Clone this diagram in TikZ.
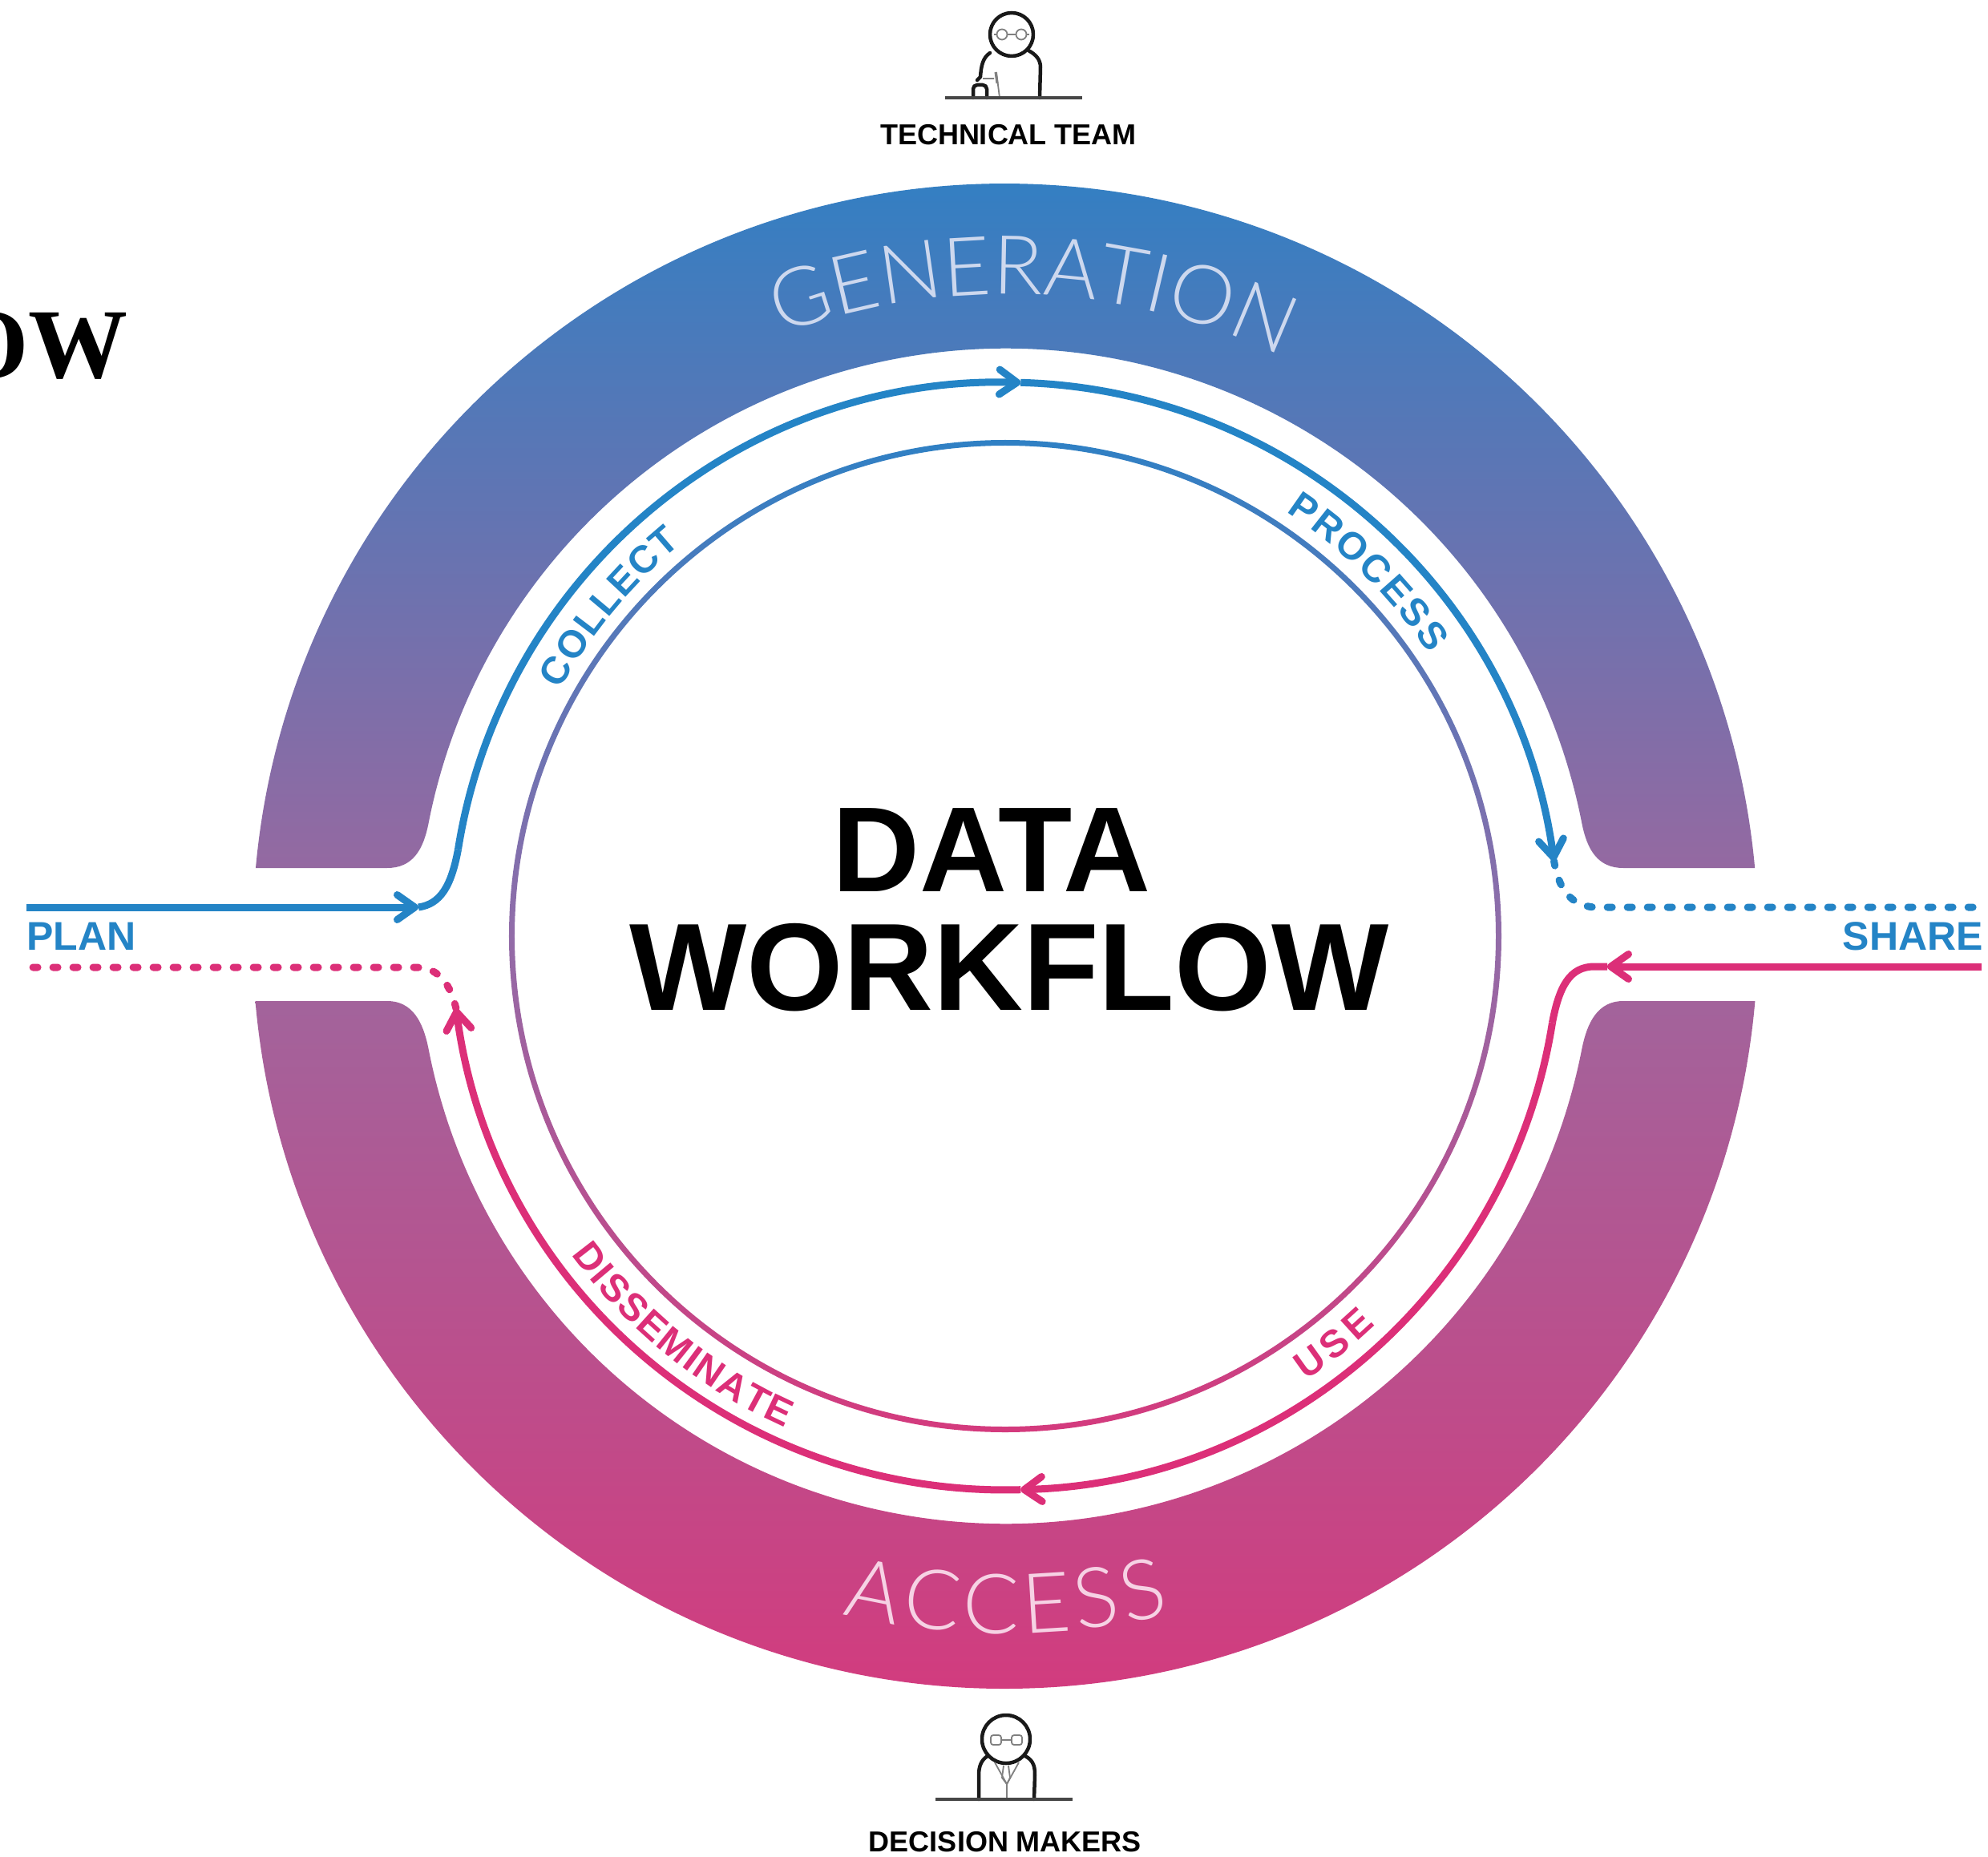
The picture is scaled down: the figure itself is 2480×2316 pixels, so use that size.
\documentclass[tikz,border=0pt]{standalone}
\usepackage{fontspec}
\setmainfont{Liberation Sans}
\newfontfamily\titlefont{Liberation Serif}
\newfontfamily\lightfont{Lato Light}
\usetikzlibrary{arrows.meta,decorations.text}
\definecolor{bluepath}{RGB}{36,132,198}
\definecolor{pinkpath}{RGB}{220,47,120}
\definecolor{gtop}{RGB}{47,128,196}
\definecolor{gmid}{RGB}{158,103,158}
\definecolor{gbot}{RGB}{212,58,125}
\definecolor{imid}{RGB}{146,108,168}
\definecolor{genlab}{RGB}{205,216,238}
\definecolor{acclab}{RGB}{246,210,228}
\definecolor{tablegray}{RGB}{70,70,70}
\newcommand\bluelab{\fontsize{48pt}{48pt}\selectfont\bfseries\color{bluepath}}
\newcommand\pinklab{\fontsize{48pt}{48pt}\selectfont\bfseries\color{pinkpath}}
\newcommand\genfmt{\fontsize{102pt}{102pt}\selectfont\lightfont\color{genlab}}
\newcommand\accfmt{\fontsize{104pt}{104pt}\selectfont\lightfont\color{acclab}}
\tikzset{
  chev/.tip={Straight Barb[length=22pt,width=31pt,round]},
  bluestroke/.style={draw=bluepath,line width=9pt},
  pinkstroke/.style={draw=pinkpath,line width=9pt},
  dotted blue/.style={bluestroke,line cap=round,dash pattern=on 6pt off 19pt},
  dotted pink/.style={pinkstroke,line cap=round,dash pattern=on 6pt off 19pt},
  bandshade/.style={top color=gtop,bottom color=gbot,middle color=gmid},
  ringshade/.style={top color=gtop,bottom color=gbot,middle color=imid},
  sidelabel/.style={inner sep=0pt,font=\fontsize{50pt}{50pt}\selectfont\bfseries},
  teamlabel/.style={inner sep=0pt,anchor=base,text=black,font=\fontsize{36pt}{36pt}\selectfont\bfseries},
  biglabel/.style={inner sep=0pt,anchor=base,text=black,font=\fontsize{155pt}{155pt}\selectfont\bfseries},
  iconline/.style={draw=black!90,line width=4.5pt,line cap=round,line join=round},
  iconthin/.style={draw=black!50,line width=1.8pt},
  tableline/.style={draw=tablegray,line width=4.5pt},
  arclabel/.style={decorate,decoration={text along path,text={#1},text align={fit to path}}},
}
\begin{document}
\begin{tikzpicture}[x=1pt,y=1pt]
\path[use as bounding box] (-1254,1168) rectangle (1226,-1148);
\clip (-1254,1168) rectangle (1226,-1148);
\fill[white] (-1254,1168) rectangle (1226,-1148);

% gradient bands
\shade[bandshade]
  (-935,85) arc[start angle=174.8,end angle=5.2,radius=939pt]
  -- (771,85) .. controls (739,85) and (726,108) .. (719.5,140)
  arc[start angle=11,end angle=169,radius=733pt]
  .. controls (-726,108) and (-739,85) .. (-771,85) -- cycle
  (-935.5,-81) arc[start angle=184.95,end angle=355.05,radius=939pt]
  -- (771,-81) .. controls (739,-81) and (726,-108) .. (719.5,-140)
  arc[start angle=-11,end angle=-169,radius=733pt]
  .. controls (-726,-108) and (-739,-81) .. (-771,-81) -- cycle;

% inner ring
\shade[ringshade,even odd rule] (0,0) circle[radius=619pt] (0,0) circle[radius=612pt];

% named points of the paths
\coordinate (planstart) at (-1221,36);
\coordinate (plantip) at (-732,36);
\coordinate (collectstart) at (171:691);
\coordinate (toptip) at (88.4:691);
\coordinate (righttip) at (7.8:691);
\coordinate (sharebend) at (735,36);
\coordinate (shareend) at (1218,36);
\coordinate (usestart) at (1218,-38);
\coordinate (usetip) at (751,-38);
\coordinate (usebend) at (735,-38);
\coordinate (usearc) at (-9:691);
\coordinate (bottomtip) at (-88.4:691);
\coordinate (lefttip) at (-172.5:691);
\coordinate (planbend) at (-735,-39);
\coordinate (planend) at (-1224,-39);

% blue path
\draw[bluestroke,-chev] (planstart) -- (plantip);
\draw[bluestroke] (plantip) .. controls (-704,40) and (-691,63) .. (collectstart);
\draw[bluestroke,-chev] (collectstart) arc[start angle=171,end angle=88.4,radius=691pt];
\draw[bluestroke,-chev] (toptip) arc[start angle=88.4,end angle=7.8,radius=691pt];
\draw[dotted blue] (righttip) .. controls (690,60) and (705,38) .. (sharebend) -- (shareend);

% pink path
\draw[pinkstroke,-chev] (usestart) -- (usetip);
\draw[pinkstroke] (usetip) -- (usebend) .. controls (704,-38) and (691,-63) .. (usearc);
\draw[pinkstroke,-chev] (usearc) arc[start angle=-9,end angle=-88.4,radius=691pt];
\draw[pinkstroke,-chev] (bottomtip) arc[start angle=-88.4,end angle=-172.5,radius=691pt];
\draw[dotted pink] (lefttip) .. controls (-692,-62) and (-705,-39) .. (planbend) -- (planend);

% curved labels
\path[arclabel={|\genfmt|GENERATION}] (110.5:801) arc[start angle=110.5,end angle=64.5,radius=801pt];
\path[arclabel={|\accfmt|ACCESS}] (256.5:870) arc[start angle=256.5,end angle=283.7,radius=870pt];
\path[arclabel={|\bluelab|COLLECT}] (151:635) arc[start angle=151,end angle=129.5,radius=635pt];
\path[arclabel={|\bluelab|PROCESS}] (56.5:635) arc[start angle=56.5,end angle=33.7,radius=635pt];
\path[arclabel={|\pinklab|DISSEMINATE}] (216.3:672) arc[start angle=216.3,end angle=245.9,radius=672pt];
\path[arclabel={|\pinklab|USE}] (304.1:670) arc[start angle=304.1,end angle=313.6,radius=670pt];

% straight labels
\node[sidelabel,anchor=base west,text=bluepath] (plan) at (-1221,-17) {PLAN};
\node[sidelabel,anchor=base east,text=bluepath] (share) at (1220,-17) {SHARE};
\node[biglabel,font=\fontsize{151pt}{151pt}\selectfont\bfseries] (data) at (-17,56) {DATA};
\node[biglabel] (workflow) at (5,-92) {WORKFLOW};
\node[teamlabel] (tech) at (4,987) {TECHNICAL TEAM};
\node[teamlabel] (decision) at (0,-1142) {DECISION MAKERS};
\node[inner sep=0pt,anchor=base east,text=black,font=\fontsize{124pt}{124pt}\selectfont\titlefont\bfseries] (title) at (-1094,696) {OW};

% icons, in reference pixels
\begin{scope}[shift={(-1254pt,1168pt)},y=-1pt]
  % technical team
  \draw[iconline] (1262,43) circle[radius=27pt];
  \draw[iconthin] (1250,43) circle[radius=6.5pt] (1274,43) circle[radius=6.5pt];
  \draw[iconthin] (1240,43) -- (1243.5,43) (1256.5,43) -- (1267.5,43) (1280.5,43) -- (1284,43);
  \draw[iconline] (1235,66) .. controls (1226,72) and (1224,82) .. (1223,96) -- (1219,100);
  \draw[iconline] (1283,63) .. controls (1292,68) and (1298,74) .. (1298,84) -- (1297,122);
  \draw[iconline,rounded corners=5pt] (1214,122) -- (1214,106) -- (1231,106) -- (1231,122);
  \draw[iconthin] (1226,98) -- (1240,98) (1243,90) -- (1247,122);
  \draw[iconthin,line width=3pt] (1242,90) -- (1244,104);
  \draw[tableline] (1179,122) -- (1350,122);
  % decision makers
  \draw[iconline] (1255,2170) circle[radius=30pt];
  \draw[iconthin,rounded corners=3pt] (1236,2165) rectangle (1249,2177) (1262,2165) rectangle (1275,2177);
  \draw[iconthin] (1249,2171) -- (1262,2171);
  \draw[iconline] (1232,2191) .. controls (1224,2196) and (1221,2204) .. (1221,2215) -- (1221,2245);
  \draw[iconline] (1279,2191) .. controls (1290,2197) and (1291,2205) .. (1291,2215) -- (1290,2245);
  \draw[iconthin] (1241,2199) -- (1256,2226) -- (1271,2199) (1256,2226) -- (1256,2245);
  \draw[iconthin] (1252,2203) -- (1250,2218) -- (1256,2226) -- (1260,2218) -- (1258,2203);
  \draw[tableline] (1167,2245) -- (1338,2245);
\end{scope}
\end{tikzpicture}
\end{document}
